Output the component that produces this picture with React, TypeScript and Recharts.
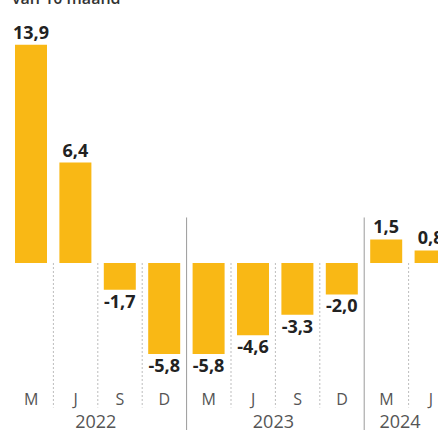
import React from "react";
import { BarChart, Bar, XAxis, YAxis, ReferenceLine, LabelList } from "recharts";

const months = ["M", "J", "S", "D", "M", "J", "S", "D", "M", "J"];
const years = ["2022", "2022", "2022", "2022", "2023", "2023", "2023", "2023", "2024", "2024"];
const values = [13.9, 6.4, -1.7, -5.8, -5.8, -4.6, -3.3, -2.0, 1.5, 0.8];

const data = values.map((v, i) => ({
  key: `${years[i]}-${months[i]}-${i}`,
  month: months[i],
  year: years[i],
  value: v,
}));

const SLOT = 44.4;
const YELLOW = "#F9B815";
const FONT = "'Open Sans', 'Noto Sans', sans-serif";

const fmt = (v: number) => v.toFixed(1).replace(".", ",");

function MonthTick({ x, y, payload }: any) {
  return (
    <text x={x} y={y} dy={8} textAnchor="middle" fontSize={16} fill="#555" fontFamily={FONT}>
      {months[payload.index]}
    </text>
  );
}

function YearTick({ x, y, payload }: any) {
  const i = payload.index;
  if (i > 0 && years[i - 1] === years[i]) return null;
  const count = years.filter((yr) => yr === years[i]).length;
  // keep the label inside the visible crop
  const cx = Math.min(x + ((count - 1) / 2) * SLOT - 2, 400);
  return (
    <text x={cx} y={y} dy={10} textAnchor="middle" fontSize={18} fill="#555" fontFamily={FONT}>
      {years[i]}
    </text>
  );
}

function ValueLabel({ x, y, width, height, value }: any) {
  const top = Math.min(y, y + height);
  const bottom = Math.max(y, y + height);
  const neg = value < 0;
  return (
    <text
      x={x + width / 2}
      y={neg ? bottom + 18 : top - 6}
      textAnchor="middle"
      fontSize={18}
      fontWeight={700}
      fill="#222"
      fontFamily={FONT}
    >
      {fmt(value)}
    </text>
  );
}

export default function App() {
  const separators = data.slice(0, -1).map((d, i) => {
    const yearBreak = years[i] !== years[i + 1];
    return yearBreak ? (
      <ReferenceLine
        key={d.key}
        xAxisId="m"
        segment={[{ x: d.key, y: 2.9 }, { x: d.key, y: -11 }]}
        position="end"
        stroke="#9a9a9a"
        strokeWidth={1}
        ifOverflow="visible"
      />
    ) : (
      <ReferenceLine
        key={d.key}
        xAxisId="m"
        segment={[{ x: d.key, y: 0 }, { x: d.key, y: -9.2 }]}
        position="end"
        stroke="#bdbdbd"
        strokeDasharray="2 2"
        strokeWidth={1}
        ifOverflow="visible"
      />
    );
  });

  return (
    <div
      style={{
        position: "fixed",
        left: 0,
        top: 0,
        width: 438,
        height: 430,
        overflow: "hidden",
        background: "#fff",
      }}
    >
      <div
        style={{
          position: "absolute",
          left: 12,
          top: -13,
          fontFamily: FONT,
          fontSize: 16,
          fontWeight: 600,
          color: "#333",
          whiteSpace: "nowrap",
        }}
      >
        van 10 maand
      </div>
      <BarChart
        width={460}
        height={430}
        data={data}
        margin={{ top: 27.5, right: 7, left: 9, bottom: 0 }}
        barSize={32}
      >
        <XAxis
          xAxisId="m"
          dataKey="key"
          height={21.4}
          axisLine={false}
          tickLine={false}
          interval={0}
          tick={<MonthTick />}
        />
        <XAxis
          xAxisId="y"
          dataKey="key"
          height={20}
          axisLine={false}
          tickLine={false}
          interval={0}
          tick={<YearTick />}
        />
        <YAxis hide domain={[-8, 15]} />
        {separators}
        <Bar xAxisId="m" dataKey="value" fill={YELLOW} isAnimationActive={false}>
          <LabelList dataKey="value" content={<ValueLabel />} />
        </Bar>
      </BarChart>
    </div>
  );
}
